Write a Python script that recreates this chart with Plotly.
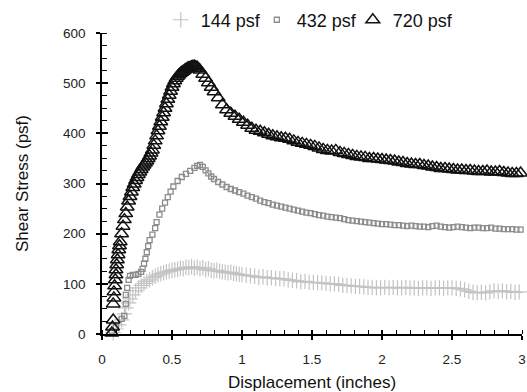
import plotly.graph_objects as go

# ---- data ----
disp_144 = [0.08, 0.10, 0.12, 0.14, 0.16, 0.17, 0.19, 0.20, 0.22, 0.24, 0.26, 0.28, 0.30, 0.32, 0.34,
            0.36, 0.38, 0.40, 0.42, 0.44, 0.46, 0.48, 0.50, 0.52, 0.54, 0.56, 0.58, 0.60, 0.62, 0.64,
            0.66, 0.68, 0.70, 0.72, 0.74, 0.76, 0.78, 0.80, 0.82, 0.84, 0.86, 0.88, 0.90, 0.92, 0.94,
            0.96, 0.98, 1.00, 1.03, 1.06, 1.09, 1.12, 1.15, 1.18, 1.21, 1.24, 1.27, 1.30, 1.33, 1.36,
            1.39, 1.42, 1.45, 1.48, 1.51, 1.54, 1.57, 1.60, 1.63, 1.66, 1.69, 1.72, 1.75, 1.78, 1.81,
            1.84, 1.87, 1.90, 1.93, 1.96, 1.99, 2.02, 2.05, 2.08, 2.11, 2.14, 2.17, 2.20, 2.23, 2.26,
            2.29, 2.32, 2.35, 2.38, 2.41, 2.44, 2.47, 2.50, 2.53, 2.56, 2.59, 2.62, 2.65, 2.68, 2.71,
            2.74, 2.77, 2.80, 2.83, 2.86, 2.89, 2.92, 2.95, 2.98]
stress_144 = [3, 10, 18, 28, 40, 52, 62, 70, 78, 86, 92, 97, 101, 105, 108,
              112, 115, 118, 120, 122, 124, 125, 127, 128, 129, 131, 130, 133, 132, 134,
              131, 133, 130, 132, 128, 130, 127, 126, 127, 125, 124, 123, 122, 123, 121,
              120, 119, 118, 117, 116, 115, 113, 114, 112, 112, 111, 110, 110, 108, 107,
              106, 104, 105, 103, 103, 102, 102, 101, 100, 100, 99, 97, 97, 96, 95,
              95, 94, 93, 93, 92, 92, 93, 92, 93, 92, 92, 93, 92, 92, 91,
              92, 92, 91, 92, 92, 91, 92, 92, 91, 90, 88, 85, 83, 82, 83,
              82, 84, 86, 85, 86, 84, 85, 83, 84]

disp_432 = [0.07, 0.10, 0.14, 0.16, 0.17, 0.17, 0.18, 0.19, 0.20, 0.22, 0.24, 0.26, 0.28, 0.29,
            0.30, 0.31, 0.32, 0.33, 0.34, 0.36, 0.38, 0.39, 0.41, 0.43, 0.45, 0.47, 0.49, 0.51,
            0.54, 0.57, 0.60, 0.63, 0.66, 0.68, 0.70, 0.72, 0.74, 0.76, 0.78, 0.80, 0.83, 0.86,
            0.89, 0.92, 0.95, 0.98, 1.01, 1.04, 1.07, 1.10, 1.13, 1.16, 1.19, 1.22, 1.25, 1.28,
            1.31, 1.34, 1.37, 1.40, 1.43, 1.46, 1.49, 1.52, 1.55, 1.58, 1.61, 1.64, 1.67, 1.70,
            1.73, 1.76, 1.79, 1.82, 1.85, 1.88, 1.91, 1.94, 1.97, 2.00, 2.03, 2.06, 2.09, 2.12,
            2.15, 2.18, 2.21, 2.24, 2.27, 2.30, 2.33, 2.36, 2.39, 2.42, 2.45, 2.48, 2.51, 2.54,
            2.57, 2.60, 2.63, 2.66, 2.69, 2.72, 2.75, 2.78, 2.81, 2.84, 2.87, 2.90, 2.93, 2.96, 2.99]
stress_432 = [5, 14, 30, 36, 60, 78, 92, 108, 116, 118, 118, 120, 124, 130,
              140, 150, 163, 175, 187, 198, 211, 223, 238, 250, 262, 273, 284, 294,
              305, 313, 319, 325, 331, 335, 337, 333, 326, 320, 314, 309, 303, 298,
              293, 289, 286, 283, 280, 276, 273, 270, 266, 263, 261, 258, 256, 254,
              252, 250, 248, 246, 244, 242, 241, 239, 237, 236, 234, 233, 232, 231,
              229, 227, 226, 225, 224, 223, 222, 221, 220, 219, 219, 218, 217, 217,
              216, 215, 216, 215, 214, 214, 213, 215, 216, 214, 213, 212, 213, 214,
              213, 212, 211, 212, 212, 211, 211, 212, 210, 210, 209, 209, 209, 208, 208]

disp_720 = [0.07, 0.075, 0.08, 0.08, 0.085, 0.085, 0.09, 0.095, 0.10, 0.10, 0.105, 0.11, 0.115,
            0.12, 0.125, 0.13, 0.14, 0.15, 0.16, 0.17, 0.18, 0.19, 0.20, 0.21, 0.22, 0.23, 0.24,
            0.25, 0.26, 0.27, 0.28, 0.29, 0.30, 0.31, 0.32, 0.33, 0.34, 0.35, 0.36, 0.37, 0.38,
            0.39, 0.40, 0.41, 0.42, 0.43, 0.44, 0.45, 0.46, 0.47, 0.48, 0.49, 0.50, 0.51, 0.52,
            0.53, 0.54, 0.55, 0.56, 0.57, 0.58, 0.59, 0.60, 0.61, 0.62, 0.63, 0.64, 0.65, 0.66,
            0.67, 0.68, 0.69, 0.70, 0.72, 0.74, 0.76, 0.78, 0.80, 0.83, 0.86, 0.89, 0.92, 0.95,
            0.98, 1.01, 1.04, 1.07, 1.10, 1.13, 1.16, 1.19, 1.22, 1.25, 1.28, 1.31, 1.34, 1.37,
            1.40, 1.43, 1.46, 1.49, 1.52, 1.55, 1.58, 1.61, 1.64, 1.67, 1.70, 1.73, 1.76, 1.79,
            1.82, 1.85, 1.88, 1.91, 1.94, 1.97, 2.00, 2.03, 2.06, 2.09, 2.12, 2.15, 2.18, 2.21,
            2.24, 2.27, 2.30, 2.33, 2.36, 2.39, 2.42, 2.45, 2.48, 2.51, 2.54, 2.57, 2.60, 2.63,
            2.66, 2.69, 2.72, 2.75, 2.78, 2.81, 2.84, 2.87, 2.90, 2.93, 2.96, 2.99]
stress_720 = [2, 14, 28, 60, 72, 84, 96, 108, 118, 128, 138, 148, 158,
              168, 176, 184, 200, 215, 228, 240, 253, 265, 274, 283, 292, 299, 306,
              312, 318, 323, 328, 333, 337, 341, 345, 350, 355, 361, 367, 376, 385,
              395, 405, 414, 423, 432, 441, 450, 459, 468, 476, 484, 492, 499, 505,
              510, 514, 517, 520, 522, 524, 526, 528, 530, 531, 532, 533, 534, 534,
              533, 532, 529, 526, 518, 510, 501, 492, 483, 471, 457, 447, 440, 434,
              428, 422, 416, 410, 406, 404, 401, 398, 395, 393, 391, 390, 388, 385,
              382, 380, 378, 376, 374, 371, 368, 366, 365, 366, 362, 360, 358, 356,
              354, 353, 352, 350, 350, 349, 348, 347, 346, 345, 343, 342, 340, 339,
              338, 338, 336, 335, 333, 332, 330, 330, 329, 328, 327, 327, 326, 326,
              325, 324, 324, 325, 323, 323, 324, 322, 321, 320, 320, 321]

x_ticks = [0, 0.5, 1, 1.5, 2, 2.5, 3]
x_tick_text = ["0", "0.5", "1", "1.5", "2", "2.5", "3"]
y_ticks = [0, 100, 200, 300, 400, 500, 600]

FONT = "Liberation Sans, Arial, sans-serif"

fig = go.Figure()
fig.add_trace(go.Scatter(
    x=disp_144, y=stress_144, mode="markers", name="144 psf", cliponaxis=False,
    marker=dict(symbol="cross-thin", size=11, color="#c3c3c3",
                line=dict(color="#c3c3c3", width=1.2))))
fig.add_trace(go.Scatter(
    x=disp_432, y=stress_432, mode="markers", name="432 psf", cliponaxis=False,
    marker=dict(symbol="square-open", size=5, color="#8c8c8c",
                line=dict(color="#8c8c8c", width=1.3))))
fig.add_trace(go.Scatter(
    x=disp_720, y=stress_720, mode="markers", name="720 psf", cliponaxis=False,
    marker=dict(symbol="triangle-up-open", size=12, color="#111111",
                line=dict(color="#111111", width=1.5))))
# empty spacer entry so the last legend label is not clipped
fig.add_trace(go.Scatter(x=[None], y=[None], mode="markers", name=" ",
                         marker=dict(color="rgba(0,0,0,0)", size=1,
                                     line=dict(width=0, color="rgba(0,0,0,0)")),
                         hoverinfo="skip"))
# helper trace so the overlay axes (inner half of the major ticks) are drawn
fig.add_trace(go.Scatter(x=[None], y=[None], xaxis="x2", yaxis="y2",
                         showlegend=False, hoverinfo="skip"))

axis_common = dict(showgrid=False, zeroline=False, showline=True, linecolor="black",
                   linewidth=1.6, ticks="outside", tickcolor="black", tickwidth=1.5,
                   tickfont=dict(family=FONT, size=13.5, color="#222222"),
                   ticklabeloverflow="allow", automargin=False)

fig.update_layout(
    width=527, height=392,
    margin=dict(l=102, r=5, t=33, b=58, autoexpand=False),
    paper_bgcolor="white", plot_bgcolor="white",
    font=dict(family=FONT, color="#111111"),
    xaxis=dict(range=[0, 3], tickvals=x_ticks, ticktext=x_tick_text, ticklen=4,
               ticklabelstandoff=8,
               minor=dict(dtick=0.1, tick0=0, ticks="inside", ticklen=4,
                          tickcolor="black", tickwidth=1.3),
               title=dict(text="Displacement (inches)",
                          font=dict(family=FONT, size=17, color="#111111"), standoff=12),
               **axis_common),
    yaxis=dict(range=[0, 600], tickvals=y_ticks, ticklen=4,
               ticklabelstandoff=8,
               minor=dict(dtick=25, tick0=0, ticks="inside", ticklen=5,
                          tickcolor="black", tickwidth=1.3),
               title=dict(text="Shear Stress (psf)",
                          font=dict(family=FONT, size=17, color="#111111"), standoff=30),
               **axis_common),
    xaxis2=dict(overlaying="x", anchor="y", range=[0, 3], tickvals=x_ticks,
                ticks="inside", ticklen=4, tickwidth=1.5, tickcolor="black",
                showticklabels=False, showline=False, showgrid=False, zeroline=False),
    yaxis2=dict(overlaying="y", anchor="x", range=[0, 600], tickvals=y_ticks,
                ticks="inside", ticklen=6, tickwidth=1.5, tickcolor="black",
                showticklabels=False, showline=False, showgrid=False, zeroline=False,
                side="left"),
    legend=dict(orientation="h", x=0.14, xanchor="left", y=1.043, yanchor="middle",
                font=dict(family=FONT, size=18, color="#111111"),
                itemwidth=30, entrywidth=51, bgcolor="rgba(0,0,0,0)",
                tracegroupgap=0),
    showlegend=True,
)

# remove the default 8px page margin so the figure fills the window exactly
fig.write_html("out.html", config={"displayModeBar": False},
               post_script="document.body.style.margin='0';")
